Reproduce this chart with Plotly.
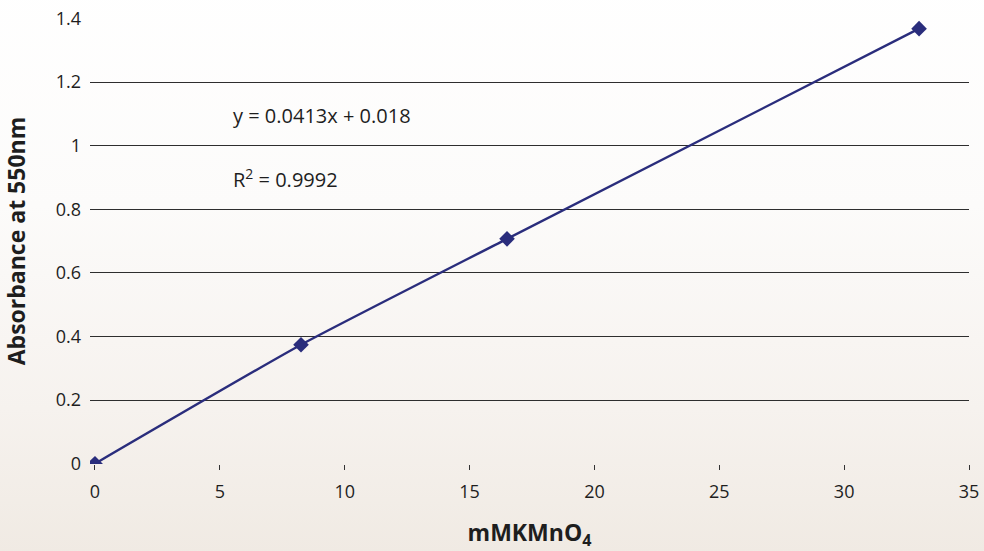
import base64
import plotly.graph_objects as go

# Data
conc_mM = [0, 8.25, 16.5, 33]
absorbance = [0, 0.374, 0.707, 1.368]
x_ticks = [0, 5, 10, 15, 20, 25, 30, 35]
y_ticks = [0, 0.2, 0.4, 0.6, 0.8, 1.0, 1.2, 1.4]
y_tick_labels = ["0", "0.2", "0.4", "0.6", "0.8", "1", "1.2", "1.4"]
grid_vals = [0.2, 0.4, 0.6, 0.8, 1.0, 1.2, 1.4]
eq_text = "y = 0.0413x + 0.018"
r2_text = "R<sup>2</sup> = 0.9992"

FONT = "Open Sans, Noto Sans, sans-serif"
NAVY = "#2a2d7c"
TXT = "#1e1e1e"

svg = ('<svg xmlns="http://www.w3.org/2000/svg" width="984" height="551" preserveAspectRatio="none">'
       '<defs><linearGradient id="g" x1="0" y1="0" x2="0" y2="1">'
       '<stop offset="0" stop-color="#ffffff"/>'
       '<stop offset="0.4" stop-color="#fcfbfa"/>'
       '<stop offset="0.75" stop-color="#f6f2ee"/>'
       '<stop offset="1" stop-color="#f0eae3"/>'
       '</linearGradient></defs>'
       '<rect width="984" height="551" fill="url(#g)"/></svg>')
bg_uri = "data:image/svg+xml;base64," + base64.b64encode(svg.encode()).decode()

fig = go.Figure()
fig.add_trace(go.Scatter(
    x=conc_mM, y=absorbance, mode="lines+markers",
    line=dict(color=NAVY, width=2.4, shape="spline", smoothing=0.5),
    marker=dict(symbol="diamond", size=12, color=NAVY),
    showlegend=False, hoverinfo="skip",
))
# invisible trace to anchor the grid axis
fig.add_trace(go.Scatter(x=[None], y=[None], yaxis="y2", showlegend=False))

fig.add_annotation(x=5.45, y=1.095, xref="x", yref="y", text=eq_text,
                   showarrow=False, xanchor="left", yanchor="middle",
                   font=dict(family=FONT, size=20, color=TXT))
fig.add_annotation(x=5.45, y=0.898, xref="x", yref="y", text=r2_text,
                   showarrow=False, xanchor="left", yanchor="middle",
                   font=dict(family=FONT, size=20, color=TXT))

YR = [-0.001, 1.4015]
fig.update_layout(
    width=984, height=551,
    margin=dict(l=90, r=15, t=18, b=87),
    paper_bgcolor="rgba(0,0,0,0)",
    plot_bgcolor="rgba(0,0,0,0)",
    images=[dict(source=bg_uri, xref="paper", yref="paper", x=-0.2, y=1.1,
                 sizex=1.4, sizey=1.3, sizing="stretch", layer="below",
                 xanchor="left", yanchor="top")],
    font=dict(family=FONT, size=18, color=TXT),
    xaxis=dict(
        range=[-0.2, 35], tickvals=x_ticks, ticks="outside", ticklen=5,
        tickcolor="#333", tickwidth=1, showgrid=False, zeroline=False,
        showline=False, tickfont=dict(size=18, color=TXT), automargin=False,
        ticklabelstandoff=6,
        title=dict(text="<b>mMKMnO<sub>4</sub></b>", font=dict(size=23, color=TXT),
                   standoff=26),
    ),
    yaxis=dict(
        range=YR, tickvals=y_ticks, ticktext=y_tick_labels,
        showgrid=False, zeroline=False, showline=False, ticks="",
        ticklabelstandoff=8, automargin=False,
        tickfont=dict(size=18, color=TXT),
        title=dict(text="<b>Absorbance at 550nm</b>", font=dict(size=23, color=TXT),
                   standoff=24),
    ),
    yaxis2=dict(
        range=YR, overlaying="y", side="left", tickvals=grid_vals,
        showticklabels=False, showgrid=True, gridcolor="#2e2e2e", gridwidth=1,
        zeroline=False, showline=False, ticks="",
    ),
)

fig.write_html("out.html", config={"displayModeBar": False},
               post_script="document.body.style.margin='0';")
